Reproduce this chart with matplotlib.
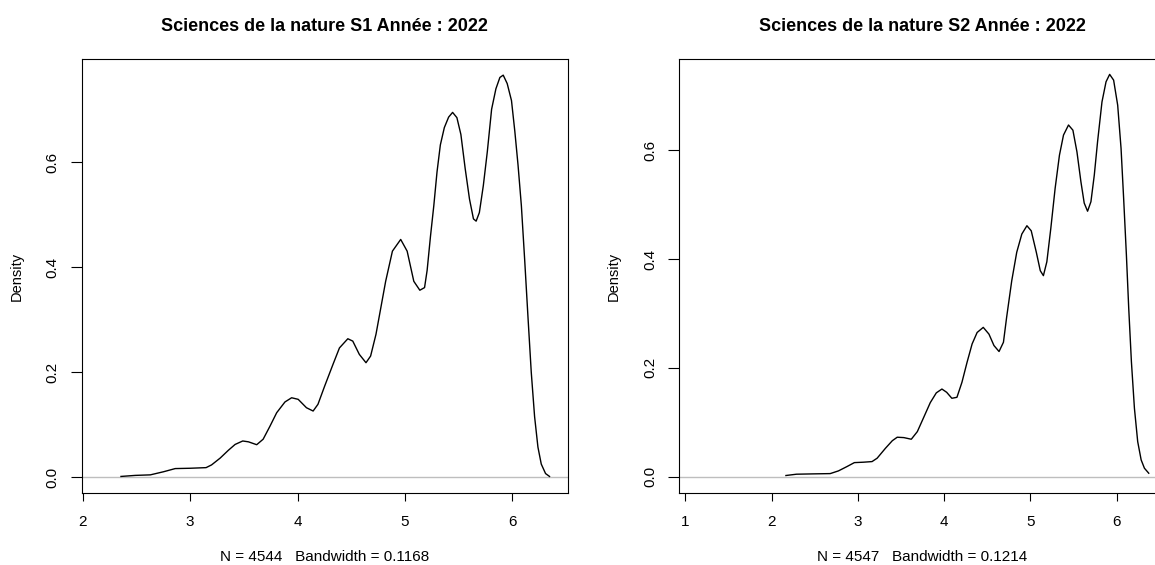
import matplotlib
matplotlib.use("Agg")
import matplotlib.pyplot as plt

plt.rcParams['font.family'] = ['Liberation Sans', 'DejaVu Sans']

# densite S1
s1_x = [2.357, 2.49, 2.63, 2.754, 2.862, 3.0, 3.149, 3.20, 3.28, 3.357, 3.419, 3.49,
        3.543, 3.62, 3.68, 3.744, 3.806, 3.883, 3.945, 4.006, 4.083, 4.145, 4.19, 4.252,
        4.33, 4.39, 4.468, 4.514, 4.575, 4.637, 4.68, 4.73, 4.775, 4.82, 4.883, 4.96,
        5.02, 5.082, 5.138, 5.182, 5.206, 5.237, 5.268, 5.298, 5.329, 5.366, 5.406,
        5.443, 5.483, 5.52, 5.56, 5.60, 5.637, 5.662, 5.692, 5.729, 5.766, 5.806, 5.846,
        5.883, 5.914, 5.951, 5.991, 6.022, 6.052, 6.083, 6.114, 6.145, 6.175, 6.206,
        6.237, 6.268, 6.308, 6.345]
s1_y = [0.001, 0.003, 0.004, 0.010, 0.016, 0.0166, 0.0178, 0.023, 0.036, 0.051, 0.062, 0.0686,
        0.067, 0.0615, 0.072, 0.097, 0.1225, 0.143, 0.151, 0.148, 0.132, 0.1257, 0.1385, 0.173,
        0.2147, 0.246, 0.2635, 0.259, 0.2337, 0.2178, 0.2305, 0.272, 0.3225, 0.373, 0.4305, 0.4528,
        0.4305, 0.373, 0.356, 0.361, 0.394, 0.4585, 0.517, 0.5815, 0.633, 0.666, 0.686,
        0.695, 0.685, 0.653, 0.588, 0.53, 0.492, 0.4877, 0.504, 0.5556, 0.62, 0.701, 0.740,
        0.7616, 0.766, 0.75, 0.7175, 0.659, 0.5945, 0.517, 0.413, 0.303, 0.1995, 0.115,
        0.057, 0.0246, 0.0065, 0.001]

# densite S2
s2_x = [2.167, 2.29, 2.485, 2.68, 2.776, 2.874, 2.96, 3.068, 3.165, 3.224, 3.32, 3.40,
        3.457, 3.534, 3.62, 3.69, 3.767, 3.84, 3.91, 3.975, 4.03, 4.09, 4.149, 4.207,
        4.266, 4.325, 4.383, 4.454, 4.52, 4.578, 4.637, 4.688, 4.725, 4.784, 4.842, 4.901,
        4.96, 5.01, 5.069, 5.115, 5.151, 5.191, 5.237, 5.287, 5.337, 5.384, 5.442, 5.493,
        5.54, 5.586, 5.624, 5.663, 5.702, 5.741, 5.779, 5.83, 5.877, 5.919, 5.965, 6.012,
        6.051, 6.081, 6.113, 6.14, 6.171, 6.206, 6.244, 6.284, 6.322, 6.372]
s2_y = [0.002, 0.0044, 0.005, 0.0055, 0.0105, 0.0184, 0.0257, 0.0265, 0.0276, 0.0338, 0.052, 0.066,
        0.0724, 0.0717, 0.0687, 0.0827, 0.110, 0.136, 0.154, 0.161, 0.155, 0.144, 0.1458, 0.1734,
        0.210, 0.244, 0.265, 0.2744, 0.262, 0.241, 0.230, 0.247, 0.293, 0.360, 0.4125, 0.446,
        0.4613, 0.452, 0.4125, 0.3786, 0.3695, 0.395, 0.4565, 0.530, 0.591, 0.628, 0.6465, 0.637,
        0.597, 0.542, 0.503, 0.488, 0.5055, 0.5545, 0.616, 0.689, 0.726, 0.7396, 0.729, 0.683,
        0.6036, 0.5117, 0.4075, 0.3095, 0.2114, 0.1257, 0.0643, 0.0307, 0.0154, 0.0062]

titles = ["Sciences de la nature S1 Année : 2022", "Sciences de la nature S2 Année : 2022"]
sous_titres = ["N = 4544   Bandwidth = 0.1168", "N = 4547   Bandwidth = 0.1214"]
x_ticks = [[2, 3, 4, 5, 6], [1, 2, 3, 4, 5, 6]]
y_ticks = [0.0, 0.2, 0.4, 0.6]

fig = plt.figure(figsize=(11.55, 5.65), dpi=100)
ax1 = fig.add_axes([0.0706, 0.1274, 0.421, 0.768])
ax2 = fig.add_axes([0.5879, 0.1274, 0.4214, 0.768])

panels = [(ax1, s1_x, s1_y, (1.99, 6.515), (-0.0306, 0.7966)),
          (ax2, s2_x, s2_y, (0.928, 6.569), (-0.0302, 0.7677))]

for i, (ax, xs, ys, xl, yl) in enumerate(panels):
    ax.axhline(0, color='#bebebe', lw=1)
    ax.plot(xs, ys, color='black', lw=1)
    ax.set_xlim(*xl)
    ax.set_ylim(*yl)
    ax.set_xticks(x_ticks[i])
    ax.set_yticks(y_ticks)
    ax.set_yticklabels(["%.1f" % v for v in y_ticks])
    ax.tick_params(direction='out', width=0.8, labelsize=11, colors='black')
    ax.tick_params(axis='x', length=6, pad=10)
    ax.tick_params(axis='y', length=7.7, pad=8, labelrotation=90)
    for lab in ax.get_yticklabels():
        lab.set_va('center')
    for sp in ax.spines.values():
        sp.set_linewidth(0.8)
    ax.set_title(titles[i], fontsize=13, fontweight='bold', pad=20.5)
    ax.set_xlabel(sous_titres[i], fontsize=11, labelpad=15)
    ax.set_ylabel("Density", fontsize=10.5, labelpad=16)

fig.savefig("out.png", dpi=100)
